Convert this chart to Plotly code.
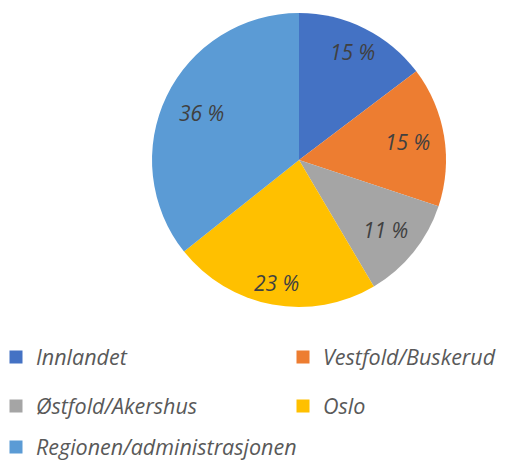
import math
import plotly.graph_objects as go

labels = ["Innlandet", "Vestfold/Buskerud", "Østfold/Akershus", "Oslo", "Regionen/administrasjonen"]
values = [14.7, 15.4, 11.4, 22.8, 35.7]
colors = ["#4472C4", "#ED7D31", "#A5A5A5", "#FFC000", "#5B9BD5"]
# legend grid position (column, row) for each entry
legend_col = [0, 1, 0, 1, 0]
legend_row = [0, 0, 1, 1, 2]

FONT = "Open Sans"
W, H = 499, 453          # page body has an 8px margin in the 507x461 window
DX = [0.2886, 0.8778]
DY = [0.3400, 0.9890]
LABEL_R = [0.82, 0.75, 0.76, 0.85, 0.74]   # best-fit radial position of each data label
COL_X = [-12 / W, 275 / W]
ROW_Y = [1 - 349 / H, 1 - 398 / H, 1 - 439 / H]

fig = go.Figure()
fig.add_trace(go.Pie(
    labels=labels, values=values, sort=False, direction="clockwise", rotation=0,
    marker=dict(colors=colors, line=dict(width=0)),
    textinfo="none",
    showlegend=False, hoverinfo="label+percent",
    domain=dict(x=DX, y=DY),
))

# data labels placed along each slice bisector
cx = (DX[0] + DX[1]) / 2 * W
cy = (DY[0] + DY[1]) / 2 * H
R = min((DX[1] - DX[0]) * W, (DY[1] - DY[0]) * H) / 2
tot = sum(values)
cum = 0
for v, lr in zip(values, LABEL_R):
    mid = (cum + v / 2) / tot * 2 * math.pi
    cum += v
    px = cx + lr * R * math.sin(mid)
    py = cy + lr * R * math.cos(mid)
    fig.add_annotation(x=px / W, y=py / H, xref="paper", yref="paper",
                       xanchor="center", yanchor="middle",
                       text=f"{v:.0f} %", showarrow=False,
                       font=dict(family=FONT, size=21, color="#404040", style="italic"))

leg_layout = {}
for i, (lab, col) in enumerate(zip(labels, colors)):
    lg = "legend" if i == 0 else f"legend{i + 1}"
    fig.add_trace(go.Scatter(
        x=[None], y=[None], mode="markers", name=lab, legend=lg,
        marker=dict(symbol="square", size=13, color=col, line=dict(width=0)),
        showlegend=True,
    ))
    leg_layout[lg] = dict(
        x=COL_X[legend_col[i]], y=ROW_Y[legend_row[i]],
        xanchor="left", yanchor="middle", itemwidth=30,
        font=dict(family=FONT, size=21.5, color="#595959", style="italic"),
        bgcolor="rgba(0,0,0,0)", borderwidth=0,
    )

fig.update_layout(
    width=W, height=H,
    margin=dict(l=0, r=0, t=0, b=0, autoexpand=False),
    paper_bgcolor="white", plot_bgcolor="white",
    xaxis=dict(visible=False), yaxis=dict(visible=False),
    **leg_layout,
)

fig.write_html("out.html")
